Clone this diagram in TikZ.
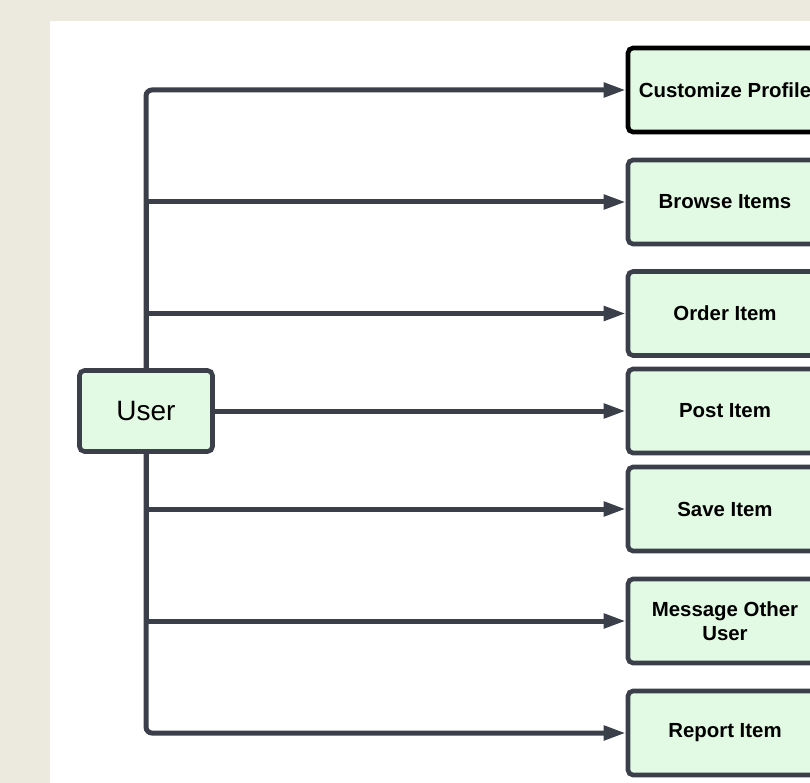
\documentclass[tikz,border=0pt]{standalone}
\usepackage{fontspec}
\setmainfont{Liberation Sans}
\usetikzlibrary{arrows.meta}
\definecolor{pagebg}{HTML}{ECE9DF}
\definecolor{boxfill}{HTML}{E2F9E3}
\definecolor{edge}{HTML}{3A3F4A}
\tikzset{
  action/.style={draw=edge, line width=4.6pt, fill=boxfill, rounded corners=5pt,
    minimum width=194pt, minimum height=84pt, inner sep=0pt, align=center,
    font=\fontsize{20.4}{24}\selectfont\bfseries},
  actor/.style={draw=edge, line width=4.6pt, fill=boxfill, rounded corners=5pt,
    minimum width=133pt, minimum height=81pt, inner sep=0pt,
    font=\fontsize{28}{32}\selectfont},
  conn/.style={draw=edge, line width=5pt, -{Triangle[length=22pt,width=14pt]}},
}
\begin{document}
\begin{tikzpicture}[x=1pt,y=-1pt]
  \useasboundingbox (0,0) rectangle (810,783);
  \clip (0,0) rectangle (810,783);
  % page and panel
  \fill[pagebg] (0,0) rectangle (810,783);
  \fill[white] (50,21) rectangle (810,783);

  % actor
  \node[actor] (user) at (146,411) {User};

  % actions
  \node[action, draw=black] (b1) at (725,90)  {Customize Profile};
  \node[action] (b2) at (725,202)   {Browse Items};
  \node[action] (b3) at (725,313.5) {Order Item};
  \node[action] (b4) at (725,411)   {Post Item};
  \node[action] (b5) at (725,509)   {Save Item};
  \node[action] (b6) at (725,621)   {Message Other\\User};
  \node[action] (b7) at (725,733)   {Report Item};

  % connectors
  \draw[conn, rounded corners=6pt] (user.north) |- (b1.west);
  \draw[conn] (user.north) |- (b2.west);
  \draw[conn] (user.north) |- (b3.west);
  \draw[conn] (user.east) -- (b4.west);
  \draw[conn] (user.south) |- (b5.west);
  \draw[conn] (user.south) |- (b6.west);
  \draw[conn, rounded corners=6pt] (user.south) |- (b7.west);
\end{tikzpicture}
\end{document}
